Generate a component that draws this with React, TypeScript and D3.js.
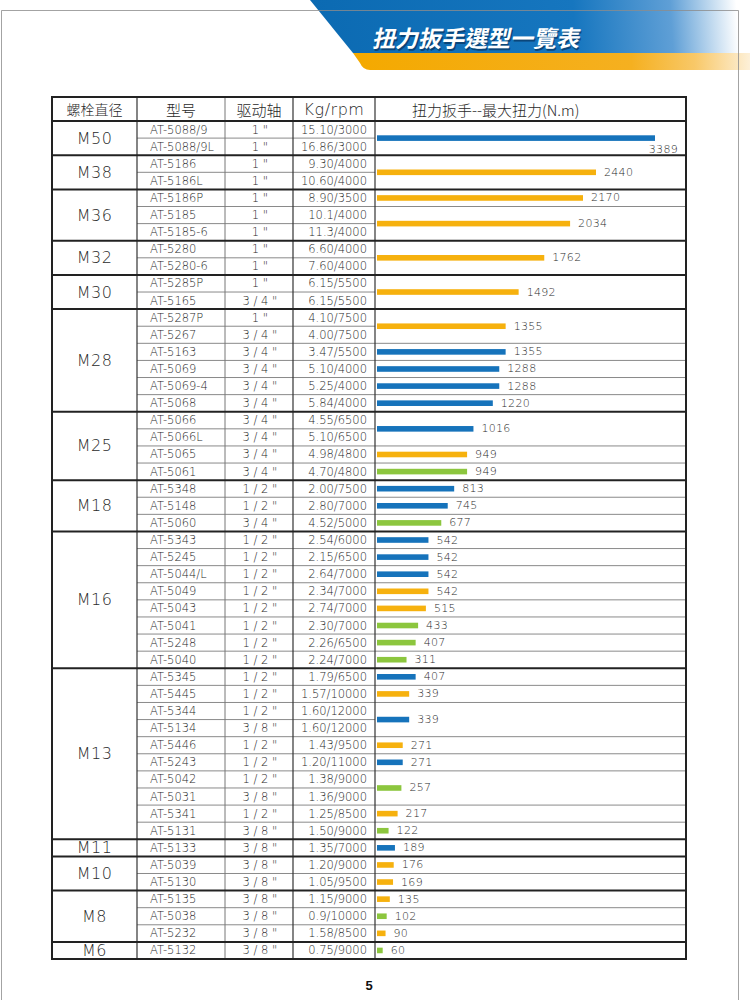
import React from "react";
import * as d3 from "d3";

const groups = ["M50", "M38", "M36", "M32", "M30", "M28", "M25", "M18", "M16", "M13", "M11", "M10", "M8", "M6"];
const groupSizes = [2, 2, 3, 2, 2, 6, 4, 3, 8, 10, 1, 2, 3, 1];

const models = [
  "AT-5088/9", "AT-5088/9L", "AT-5186", "AT-5186L", "AT-5186P", "AT-5185", "AT-5185-6",
  "AT-5280", "AT-5280-6", "AT-5285P", "AT-5165", "AT-5287P", "AT-5267", "AT-5163", "AT-5069",
  "AT-5069-4", "AT-5068", "AT-5066", "AT-5066L", "AT-5065", "AT-5061", "AT-5348", "AT-5148",
  "AT-5060", "AT-5343", "AT-5245", "AT-5044/L", "AT-5049", "AT-5043", "AT-5041", "AT-5248",
  "AT-5040", "AT-5345", "AT-5445", "AT-5344", "AT-5134", "AT-5446", "AT-5243", "AT-5042",
  "AT-5031", "AT-5341", "AT-5131", "AT-5133", "AT-5039", "AT-5130", "AT-5135", "AT-5038",
  "AT-5232", "AT-5132",
];

const drives = [
  '1 "', '1 "', '1 "', '1 "', '1 "', '1 "', '1 "', '1 "', '1 "', '1 "', '3 / 4 "',
  '1 "', '3 / 4 "', '3 / 4 "', '3 / 4 "', '3 / 4 "', '3 / 4 "',
  '3 / 4 "', '3 / 4 "', '3 / 4 "', '3 / 4 "',
  '1 / 2 "', '1 / 2 "', '3 / 4 "',
  '1 / 2 "', '1 / 2 "', '1 / 2 "', '1 / 2 "', '1 / 2 "', '1 / 2 "', '1 / 2 "', '1 / 2 "',
  '1 / 2 "', '1 / 2 "', '1 / 2 "', '3 / 8 "', '1 / 2 "', '1 / 2 "', '1 / 2 "', '3 / 8 "', '1 / 2 "', '3 / 8 "',
  '3 / 8 "', '3 / 8 "', '3 / 8 "', '3 / 8 "', '3 / 8 "', '3 / 8 "', '3 / 8 "',
];

const kgRpm = [
  "15.10/3000", "16.86/3000", "9.30/4000", "10.60/4000", "8.90/3500", "10.1/4000", "11.3/4000",
  "6.60/4000", "7.60/4000", "6.15/5500", "6.15/5500", "4.10/7500", "4.00/7500", "3.47/5500",
  "5.10/4000", "5.25/4000", "5.84/4000", "4.55/6500", "5.10/6500", "4.98/4800", "4.70/4800",
  "2.00/7500", "2.80/7000", "4.52/5000", "2.54/6000", "2.15/6500", "2.64/7000", "2.34/7000",
  "2.74/7000", "2.30/7000", "2.26/6500", "2.24/7000", "1.79/6500", "1.57/10000", "1.60/12000",
  "1.60/12000", "1.43/9500", "1.20/11000", "1.38/9000", "1.36/9000", "1.25/8500", "1.50/9000",
  "1.35/7000", "1.20/9000", "1.05/9500", "1.15/9000", "0.9/10000", "1.58/8500", "0.75/9000",
];

// one entry per bar cell (a cell may span 1 or 2 table rows)
const torqueValues = [
  3389, 2440, 2170, 2034, 1762, 1492, 1355, 1355, 1288, 1288, 1220, 1016, 949, 949,
  813, 745, 677, 542, 542, 542, 542, 515, 433, 407, 311,
  407, 339, 339, 271, 271, 257, 217, 122, 189, 176, 169, 135, 102, 90, 60,
];
const torqueSpans = [
  2, 2, 1, 2, 2, 2, 2, 1, 1, 1, 1, 2, 1, 1,
  1, 1, 1, 1, 1, 1, 1, 1, 1, 1, 1,
  1, 1, 2, 1, 1, 2, 1, 1, 1, 1, 1, 1, 1, 1, 1,
];
const torqueTypes = [
  "blue", "orange", "orange", "orange", "orange", "orange", "orange", "blue", "blue", "blue", "blue", "blue", "orange", "green",
  "blue", "blue", "green", "blue", "blue", "blue", "orange", "orange", "green", "green", "green",
  "blue", "orange", "blue", "orange", "blue", "green", "orange", "green", "blue", "orange", "orange", "orange", "green", "orange", "green",
];

const headerLabels = ["螺栓直径", "型号", "驱动轴", "Kg/rpm", "扭力扳手--最大扭力(N.m)"];
const title = "扭力扳手選型一覽表";
const pageNumber = "5";

const colorMap: Record<string, string> = { blue: "#1673bb", orange: "#f6b10e", green: "#8cc63e" };

const LATIN = "'DejaVu Sans', sans-serif";
const CJK = "'Noto Sans CJK SC', sans-serif";

export default function App() {
  const W = 750, H = 1000;
  const colX = [52, 137, 225, 293, 375, 686];
  const top = 97, headBottom = 121, bottom = 959;
  const nRows = models.length;
  const y = d3.scaleLinear().domain([0, nRows]).range([headBottom, bottom]);
  const x = d3.scaleLinear().domain([0, 2170, 2440, 3389]).range([377, 583, 596, 655]);

  const groupStarts: number[] = [];
  let acc = 0;
  groupSizes.forEach((s) => { groupStarts.push(acc); acc += s; });

  const cells: { start: number; span: number; v: number; t: string }[] = [];
  let r = 0;
  torqueValues.forEach((v, i) => {
    cells.push({ start: r, span: torqueSpans[i], v, t: torqueTypes[i] });
    r += torqueSpans[i];
  });
  const cellBoundaries = new Set(cells.map((c) => c.start));
  const groupBoundarySet = new Set(groupStarts);

  const rowLines: any[] = [];
  for (let i = 1; i < nRows; i++) {
    if (groupBoundarySet.has(i)) continue;
    rowLines.push(
      <line key={"rl" + i} x1={colX[1]} x2={cellBoundaries.has(i) ? colX[5] : colX[4]}
        y1={y(i)} y2={y(i)} stroke="#8a8a8a" strokeWidth={1} />
    );
  }

  const textFill = "#2a2a2a";

  return (
    <svg width={W} height={H} style={{ position: "absolute", left: 0, top: 0, background: "#fff" }}
      xmlns="http://www.w3.org/2000/svg">
      <defs>
        <linearGradient id="blueG" gradientUnits="userSpaceOnUse" x1={310} y1={40} x2={750} y2={10}>
          <stop offset="0" stopColor="#0b6ab2" />
          <stop offset="0.6" stopColor="#1676bf" />
          <stop offset="0.82" stopColor="#5f9fd6" />
          <stop offset="0.97" stopColor="#ffffff" />
        </linearGradient>
        <linearGradient id="orangeG" gradientUnits="userSpaceOnUse" x1={355} y1={0} x2={750} y2={0}>
          <stop offset="0" stopColor="#f4a900" />
          <stop offset="0.7" stopColor="#f5b020" />
          <stop offset="0.86" stopColor="#f8c868" />
          <stop offset="1" stopColor="#fdf0d8" />
        </linearGradient>
      </defs>

      {/* header banner */}
      <path d="M310,0 L750,0 L750,53 L353,53 Z" fill="url(#blueG)" />
      <path d="M353,53 L750,53 L750,70 L370,70 Q363,70 360,63 Z" fill="url(#orangeG)" />
      <path d="M1.5,1000 V10.5 H738.5 V1000" fill="none" stroke="#8c8c8c" strokeWidth={1} opacity={0.8} />
      <g transform="translate(372,47) skewX(-12)">
        <text x={1.5} y={1.5} fontFamily="'Noto Sans CJK TC', sans-serif" fontWeight={700}
          fontSize={23} fill="#08335e" opacity={0.7}>{title}</text>
        <text x={0} y={0} fontFamily="'Noto Sans CJK TC', sans-serif" fontWeight={700}
          fontSize={23} fill="#ffffff">{title}</text>
      </g>

      {/* header row */}
      <g fill={textFill}>
        <text x={(colX[0] + colX[1]) / 2} y={(top + headBottom) / 2} textAnchor="middle"
          dominantBaseline="central" fontFamily={CJK} fontWeight={300} fontSize={14}>{headerLabels[0]}</text>
        <text x={(colX[1] + colX[2]) / 2} y={(top + headBottom) / 2} textAnchor="middle"
          dominantBaseline="central" fontFamily={CJK} fontWeight={300} fontSize={15}>{headerLabels[1]}</text>
        <text x={(colX[2] + colX[3]) / 2} y={(top + headBottom) / 2} textAnchor="middle"
          dominantBaseline="central" fontFamily={CJK} fontWeight={300} fontSize={15}>{headerLabels[2]}</text>
        <text x={(colX[3] + colX[4]) / 2} y={(top + headBottom) / 2} textAnchor="middle"
          dominantBaseline="central" fontFamily={LATIN} fontWeight={200} fontSize={16}
          letterSpacing={0.5}>{headerLabels[3]}</text>
        <text x={412} y={(top + headBottom) / 2} textAnchor="start"
          dominantBaseline="central" fontFamily={CJK} fontWeight={300} fontSize={15}>{headerLabels[4]}</text>
      </g>

      {rowLines}

      <g fill={textFill} fontFamily={LATIN} fontWeight={200} fontSize={11.5}>
        {models.map((m, i) => (
          <text key={"m" + i} x={colX[1] + 13} y={y(i + 0.5)} dominantBaseline="central">{m}</text>
        ))}
        {drives.map((d, i) => (
          <text key={"d" + i} x={(colX[2] + colX[3]) / 2 + 1} y={y(i + 0.5)} textAnchor="middle"
            dominantBaseline="central" style={{ whiteSpace: "pre" }}>{d}</text>
        ))}
        {kgRpm.map((k, i) => (
          <text key={"k" + i} x={colX[4] - 8} y={y(i + 0.5)} textAnchor="end"
            dominantBaseline="central">{k}</text>
        ))}
      </g>

      <g fill={textFill} fontFamily={LATIN} fontWeight={200} fontSize={16}>
        {groups.map((g, i) => (
          <text key={"g" + i} x={(colX[0] + colX[1]) / 2} y={y(groupStarts[i] + groupSizes[i] / 2)}
            textAnchor="middle" dominantBaseline="central" letterSpacing={0.5}>{g}</text>
        ))}
      </g>

      {cells.map((c, i) => {
        const cy = y(c.start + c.span / 2);
        const x1 = x(c.v);
        const labelW = String(c.v).length * 7;
        const below = x1 + 8 + labelW > colX[5] - 4;
        return (
          <g key={"b" + i}>
            <rect x={x(0)} y={cy - 2.8} width={x1 - x(0)} height={5.6} fill={colorMap[c.t]} />
            <text x={below ? colX[5] - 8 : x1 + 8} y={below ? cy + 11 : cy}
              textAnchor={below ? "end" : "start"} dominantBaseline="central"
              fontFamily={LATIN} fontWeight={200} fontSize={11} fill={textFill}
              letterSpacing={0.3}>{c.v}</text>
          </g>
        );
      })}

      <line x1={colX[1]} x2={colX[1]} y1={top} y2={bottom} stroke="#333" strokeWidth={1.2} />
      <line x1={colX[2]} x2={colX[2]} y1={top} y2={bottom} stroke="#777" strokeWidth={1} />
      <line x1={colX[3]} x2={colX[3]} y1={top} y2={bottom} stroke="#333" strokeWidth={1.2} />
      <line x1={colX[4]} x2={colX[4]} y1={top} y2={bottom} stroke="#333" strokeWidth={1.2} />

      {groupStarts.slice(1).map((s, i) => (
        <line key={"gs" + i} x1={colX[0]} x2={colX[5]} y1={y(s)} y2={y(s)} stroke="#222" strokeWidth={2} />
      ))}
      <line x1={colX[0]} x2={colX[5]} y1={headBottom} y2={headBottom} stroke="#222" strokeWidth={2} />
      <rect x={colX[0]} y={top} width={colX[5] - colX[0]} height={bottom - top} fill="none"
        stroke="#222" strokeWidth={2} />

      <text x={369} y={990} textAnchor="middle" fontFamily="'Liberation Sans', Arial, sans-serif"
        fontWeight={700} fontSize={13} fill="#111">{pageNumber}</text>
    </svg>
  );
}
